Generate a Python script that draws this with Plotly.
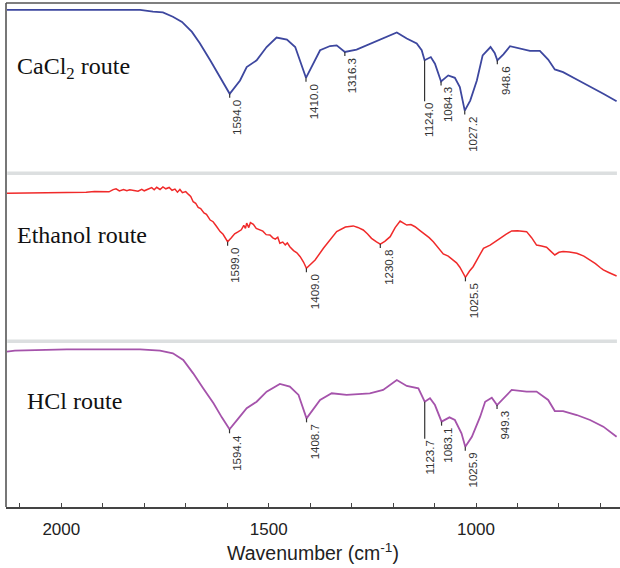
import plotly.graph_objects as go

# ---------------- data ----------------
# CaCl2 route (blue)
wn_cacl2 = [2131, 2030, 1810, 1779, 1755, 1731, 1709, 1685, 1666, 1641,
            1617, 1594.0, 1569, 1553, 1529, 1505, 1481, 1456, 1436, 1420,
            1410.0, 1376, 1352, 1336, 1316.3, 1288, 1264, 1231, 1191, 1167,
            1143, 1131, 1124.0, 1109, 1099, 1084.3, 1067, 1051, 1039, 1027.2,
            1014, 998, 984, 965, 955, 948.6, 934, 918, 894, 870,
            846, 826, 810, 790, 757, 725, 693, 661]
t_cacl2 = [95.9, 96.0, 96.0, 94.9, 94.5, 91.9, 88.9, 83.0, 76.3, 66.3,
           56.4, 46.6, 54.4, 62.3, 66.3, 74.1, 79.7, 78.5, 74.1, 63.3,
           56.0, 72.2, 74.7, 75.1, 71.2, 72.6, 75.1, 78.1, 82.7, 79.1,
           76.2, 72.2, 66.3, 68.2, 64.3, 53.8, 57.4, 56.0, 50.5, 36.7,
           42.6, 54.4, 69.2, 74.1, 70.6, 66.3, 69.8, 74.6, 73.2, 71.8,
           71.8, 66.7, 60.9, 59.3, 55.0, 50.9, 46.6, 42.2]
peaks_cacl2 = [1594.0, 1410.0, 1316.3, 1124.0, 1084.3, 1027.2, 948.6]

# Ethanol route (red)
wn_eth = [2131, 2090, 2060, 2040, 2010, 1990, 1960, 1940, 1920, 1907,
          1895, 1885, 1875, 1868, 1860, 1850, 1842, 1835, 1825, 1815,
          1806, 1800, 1790, 1782, 1776, 1770, 1762, 1755, 1748, 1740,
          1733, 1726, 1720, 1714, 1708, 1700, 1694, 1688, 1682, 1676,
          1670, 1664, 1656, 1650, 1641, 1634, 1626, 1617, 1610, 1604,
          1599.0, 1590, 1582, 1573, 1566, 1560, 1556, 1553, 1548, 1544,
          1537, 1530, 1521, 1514, 1506, 1497, 1490, 1484, 1478, 1473,
          1466, 1460, 1455, 1449, 1440, 1432, 1424, 1416, 1409.0, 1400,
          1388, 1368, 1350, 1336, 1315, 1296, 1285, 1272, 1262, 1252,
          1240, 1230.8, 1220, 1207, 1195, 1183, 1175, 1167, 1157, 1147,
          1135, 1123, 1113, 1103, 1092, 1079, 1067, 1055, 1047, 1039,
          1032, 1025.5, 1016, 1007, 995, 982, 966, 955, 942, 928,
          914, 900, 888, 878, 866, 854, 842, 830, 820, 810,
          800, 790, 775, 757, 740, 725, 712, 700, 693, 680,
          670, 661]
t_eth = [87.9, 88.0, 88.3, 88.1, 88.5, 88.3, 88.7, 88.5, 89.0, 88.9,
         89.2, 88.8, 90.1, 90.6, 89.3, 90.2, 89.4, 90.0, 89.6, 89.2,
         90.3, 89.4, 90.5, 91.3, 90.0, 91.5, 90.2, 91.7, 90.6, 91.4,
         89.7, 90.4, 88.6, 90.2, 88.3, 88.9, 87.4, 86.0, 82.9, 82.0,
         79.5, 78.8, 76.2, 75.4, 72.0, 71.0, 68.3, 65.1, 63.5, 60.8,
         59.1, 61.5, 63.8, 65.1, 66.2, 68.8, 67.0, 70.2, 67.5, 70.5,
         69.4, 67.0, 66.1, 65.4, 63.3, 63.1, 61.4, 60.6, 61.8, 58.2,
         58.9, 57.2, 58.4, 56.1, 53.8, 52.5, 50.2, 47.0, 43.3, 45.5,
         48.2, 55.2, 61.0, 65.1, 67.8, 68.5, 67.6, 66.1, 63.8, 61.1,
         59.0, 57.7, 59.3, 62.1, 67.5, 71.4, 70.2, 69.0, 69.3, 68.0,
         65.7, 63.7, 61.5, 59.1, 56.0, 51.8, 50.5, 48.2, 46.5, 43.9,
         41.0, 37.9, 41.5, 44.2, 49.5, 55.2, 57.1, 58.8, 61.1, 63.5,
         65.5, 65.6, 65.3, 65.1, 61.5, 57.1, 56.5, 55.8, 53.5, 51.2,
         52.8, 53.2, 53.0, 52.2, 50.5, 48.2, 46.0, 43.6, 42.3, 40.8,
         39.5, 38.7]
peaks_eth = [1599.0, 1409.0, 1230.8, 1025.5]

# HCl route (purple)
wn_hcl = [2131, 2112, 1987, 1810, 1762, 1731, 1706, 1682, 1658, 1633,
          1613, 1594.4, 1573, 1553, 1529, 1505, 1473, 1449, 1428, 1408.7,
          1376, 1348, 1312, 1256, 1224, 1191, 1167, 1139, 1123.7, 1111,
          1099, 1083.1, 1064, 1051, 1035, 1025.9, 1010, 990, 978, 962,
          949.3, 934, 914, 878, 854, 826, 810, 790, 757, 725,
          693, 661]
t_hcl = [93.6, 94.2, 95.0, 95.0, 94.2, 92.6, 88.6, 80.5, 71.5, 62.5,
         54.0, 46.8, 53.4, 59.5, 63.4, 69.5, 74.1, 72.5, 67.5, 53.4,
         64.5, 68.5, 67.5, 68.5, 70.5, 76.5, 72.9, 71.5, 63.4, 65.5,
         61.4, 51.4, 54.0, 52.4, 44.4, 36.3, 42.3, 54.4, 63.4, 65.8,
         61.4, 65.5, 70.5, 69.5, 69.5, 64.5, 57.8, 57.8, 55.4, 52.4,
         48.4, 42.3]
peaks_hcl = [1594.4, 1408.7, 1123.7, 1083.1, 1025.9, 949.3]

route_names = ["CaCl<sub>2</sub> route", "Ethanol route", "HCl route"]
tick_labels = ["2000", "1500", "1000"]
tick_vals = [2000, 1500, 1000]

# ---------------- styles ----------------
colors = ["#3d479f", "#f02a2a", "#a553ab"]
widths = [1.8, 1.5, 1.8]
domains = [[0.6627, 1.0], [0.3294, 0.6627], [0.0, 0.3294]]
leader_px = [[4, 4, 4, 41, 4, 4, 4], [4, 4, 4, 4], [4, 4, 37, 4, 4, 4]]
label_dx = [[8, 8, 8, 5, 7, 8, 8], [8, 8, 8, 8], [8, 8, 5, 7, 8, 8]]
name_pos = [(0.0147, 0.872), (0.0147, 0.540), (0.0309, 0.211)]

series = [(wn_cacl2, t_cacl2, peaks_cacl2),
          (wn_eth, t_eth, peaks_eth),
          (wn_hcl, t_hcl, peaks_hcl)]

fig = go.Figure()
shapes = []
annotations = []
yaxes = ["y", "y2", "y3"]

for i, (wn, tt, pk) in enumerate(series):
    fig.add_trace(go.Scatter(x=wn, y=tt, mode="lines", xaxis="x", yaxis=yaxes[i],
                             line=dict(color=colors[i], width=widths[i]),
                             showlegend=False, hoverinfo="skip"))
    lookup = dict(zip(wn, tt))
    for j, p in enumerate(pk):
        tp = lookup[p]
        L = leader_px[i][j]
        shapes.append(dict(type="line", xref="x", yref=yaxes[i], ysizemode="pixel",
                           yanchor=tp, x0=p, x1=p, y0=0, y1=-L,
                           line=dict(color="#333333", width=1.2)))
        annotations.append(dict(x=p, y=tp, xref="x", yref=yaxes[i], text=f"{p:.1f}",
                                textangle=-90, showarrow=False, xanchor="center",
                                yanchor="top", xshift=label_dx[i][j], yshift=-(L + 1),
                                borderpad=0,
                                font=dict(family="Liberation Sans", size=11.5, color="#333333")))
    annotations.append(dict(x=name_pos[i][0], y=name_pos[i][1], xref="paper", yref="paper",
                            text=route_names[i], showarrow=False, xanchor="left",
                            yanchor="middle",
                            font=dict(family="Liberation Serif", size=24, color="#111111")))

# separator bands and frame
for yb in [0.6621, 0.3288]:
    shapes.append(dict(type="line", xref="paper", yref="paper", x0=0.002, x1=0.995,
                       y0=yb, y1=yb, line=dict(color="#dcdfe0", width=3.5)))
shapes.append(dict(type="line", xref="paper", yref="paper", x0=0, x1=1, y0=1, y1=1,
                   line=dict(color="#555555", width=1.6)))
shapes.append(dict(type="line", xref="paper", yref="paper", x0=0, x1=0, y0=0, y1=1,
                   line=dict(color="#555555", width=1.6)))

layout = dict(
    width=620, height=568,
    margin=dict(l=6, r=0, t=3, b=61),
    paper_bgcolor="white", plot_bgcolor="white",
    shapes=shapes, annotations=annotations,
    xaxis=dict(range=[2133.4, 652.8], anchor="y3", showgrid=False, zeroline=False,
               showline=True, linecolor="#444444", linewidth=1.5,
               ticks="inside", ticklen=4, tickcolor="#444444", tickwidth=1.2,
               tickvals=tick_vals, ticktext=tick_labels,
               minor=dict(dtick=100, tick0=0, ticks="inside", ticklen=4,
                          tickcolor="#444444", tickwidth=1.2),
               tickfont=dict(family="Liberation Sans", size=17, color="#222222"),
               ticklabelstandoff=6,
               title=dict(text="Wavenumber (cm<sup>-1</sup>)", standoff=8,
                          font=dict(family="Liberation Sans", size=19.5, color="#222222"))),
)
for i, ya in enumerate(["yaxis", "yaxis2", "yaxis3"]):
    layout[ya] = dict(domain=domains[i], range=[0, 100], anchor="x", showgrid=False,
                      zeroline=False, showticklabels=False, showline=False, ticks="",
                      fixedrange=True)
fig.update_layout(**layout)
fig.write_html("out.html")
